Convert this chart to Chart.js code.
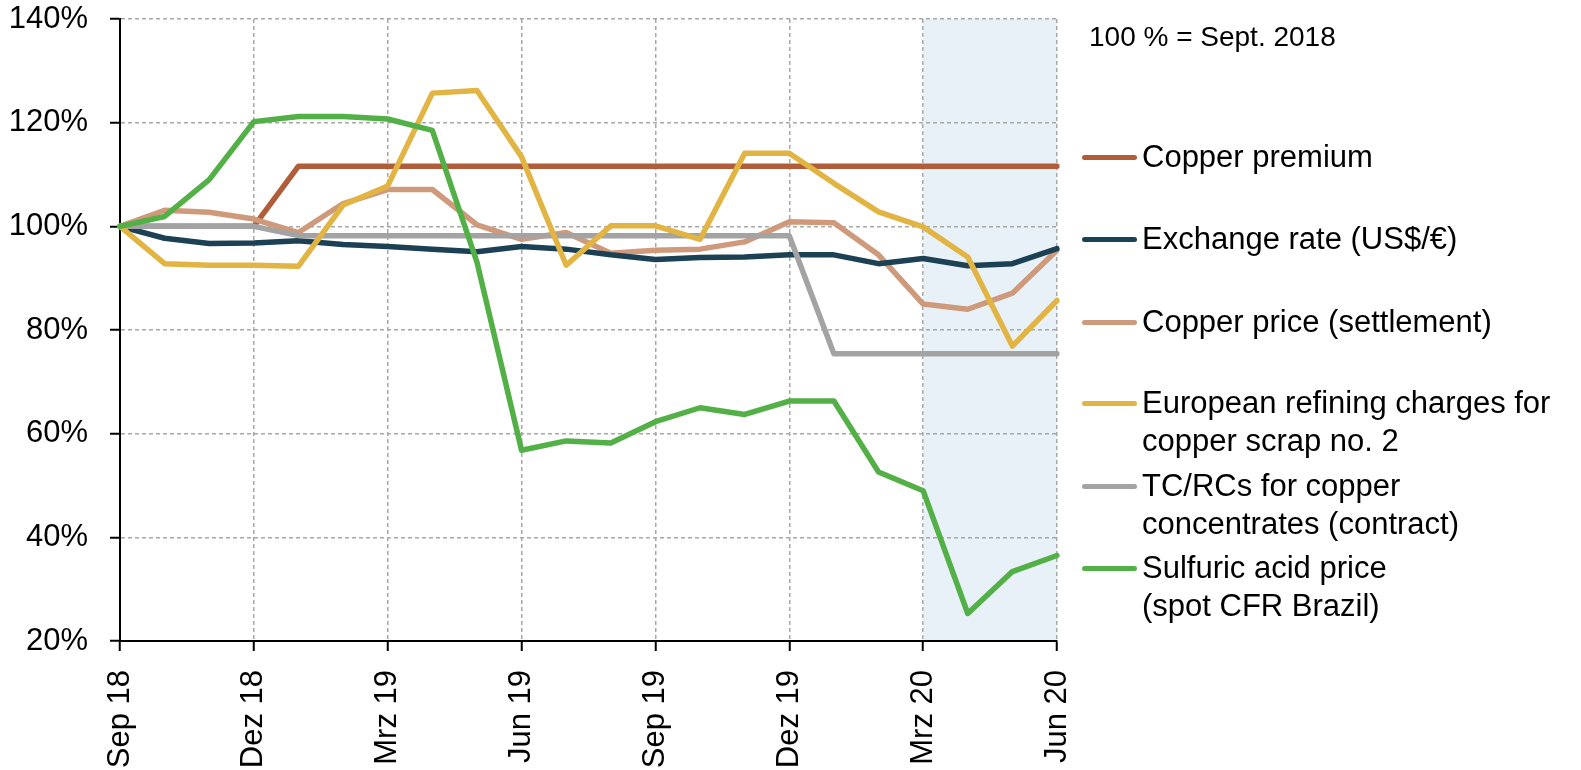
<!DOCTYPE html>
<html>
<head>
<meta charset="utf-8">
<script src="https://cdn.jsdelivr.net/npm/chart.js@4.4.1/dist/chart.umd.min.js"></script>
<style>
    body { margin: 0; background: #fff; font-family: "Liberation Sans", Arial, sans-serif; }
    #wrap { position: relative; width: 1581px; height: 770px; }
    #chart { position: absolute; left: 0; top: 0; }
    .note { position: absolute; left: 1089px; top: 20px; font-size: 28px; line-height: 34px; color: #000; white-space: nowrap; }
    .item { position: absolute; left: 1142px; font-size: 31px; line-height: 38px; color: #000; white-space: nowrap; }
    .mark { position: absolute; left: 1082px; width: 55px; height: 5px; border-radius: 3px; }
</style>
</head>
<body>
<div id="wrap">
    <canvas id="chart" width="1581" height="770"></canvas>
    <div class="note">100 % = Sept. 2018</div>
    <div id="legend"></div>
</div>
<script>
const months = ['Sep 18','Okt 18','Nov 18','Dez 18','Jan 19','Feb 19','Mrz 19','Apr 19','Mai 19','Jun 19','Jul 19','Aug 19',
                'Sep 19','Okt 19','Nov 19','Dez 19','Jan 20','Feb 20','Mrz 20','Apr 20','Mai 20','Jun 20'];

const copperPremium = [100,100,100,100,111.6,111.6,111.6,111.6,111.6,111.6,111.6,111.6,111.6,111.6,111.6,111.6,111.6,111.6,111.6,111.6,111.6,111.6];
const exchangeRate  = [100,97.7,96.7,96.8,97.2,96.5,96.1,95.6,95.1,96.1,95.6,94.5,93.6,94.0,94.1,94.5,94.5,92.8,93.8,92.4,92.8,95.7];
const copperPrice   = [100,103.1,102.7,101.4,98.8,104.4,107.1,107.1,100.3,97.5,98.8,94.8,95.4,95.6,97.0,100.9,100.7,94.5,85.0,84.0,87.1,95.4];
const scrapCharges  = [100,92.8,92.5,92.5,92.3,104.1,107.8,125.7,126.2,113.4,92.5,100.1,100.1,97.5,114.1,114.1,108.3,102.8,99.9,94.1,76.9,85.7];
const tcrcContract  = [100,100,100,100,98.2,98.2,98.2,98.2,98.2,98.2,98.2,98.2,98.2,98.2,98.2,98.2,75.4,75.4,75.4,75.4,75.4,75.4];
const sulfuricAcid  = [100,101.9,109.0,120.2,121.2,121.2,120.7,118.5,93.1,56.8,58.6,58.2,62.3,65.0,63.7,66.3,66.3,52.6,49.0,25.3,33.4,36.5];

const seriesNames = ['Copper premium', 'Exchange rate (US$/€)', 'Copper price (settlement)',
                     'European refining charges for\ncopper scrap no. 2', 'TC/RCs for copper\nconcentrates (contract)',
                     'Sulfuric acid price\n(spot CFR Brazil)'];
const seriesData = [copperPremium, exchangeRate, copperPrice, scrapCharges, tcrcContract, sulfuricAcid];
const colors = ['#b15d39', '#1c4054', '#cf9a7c', '#e1b443', '#a3a3a3', '#53b047'];
const drawOrder = [5, 3, 4, 1, 2, 0];
const legendY = [157, 239, 322, 403, 486, 568];

const shadeFrom = 18, shadeTo = 21;

const shadePlugin = {
    id: 'shade',
    beforeDraw(chart) {
        const x = chart.scales.x, a = chart.chartArea, ctx = chart.ctx;
        const x1 = x.getPixelForValue(shadeFrom), x2 = x.getPixelForValue(shadeTo);
        ctx.save();
        ctx.fillStyle = '#e8f1f7';
        ctx.fillRect(x1, a.top, x2 - x1, a.bottom - a.top);
        ctx.restore();
    }
};

const legend = document.getElementById('legend');
seriesNames.forEach((name, i) => {
    legend.innerHTML += `<div class="mark" style="top:${legendY[i] - 2.5}px;background:${colors[i]}"></div>
        <div class="item" style="top:${legendY[i] - 19}px">${name.replace('\n', '<br>')}</div>`;
});

const every3 = (i) => i % 3 === 0;
const tickFont = { family: '"Liberation Sans", Arial', size: 31 };

new Chart(document.getElementById('chart'), {
    type: 'line',
    data: {
        labels: months,
        datasets: seriesData.map((d, i) => ({
            label: seriesNames[i],
            data: d,
            borderColor: colors[i],
            borderWidth: 5.5,
            pointRadius: 0,
            tension: 0,
            borderJoinStyle: 'round',
            borderCapStyle: 'round',
            order: drawOrder[i]
        }))
    },
    plugins: [shadePlugin],
    options: {
        responsive: false,
        animation: false,
        layout: { padding: { left: 0, right: 524, top: 19, bottom: 0 } },
        plugins: { legend: { display: false }, tooltip: { enabled: false } },
        scales: {
            x: {
                afterFit: (s) => { s.height = 129; },
                border: { color: '#000', width: 2, dash: [4, 3] },
                grid: {
                    color: (c) => every3(c.index) ? '#a8a8a8' : 'transparent',
                    tickColor: (c) => every3(c.index) ? '#000' : 'transparent',
                    tickBorderDash: [],
                    lineWidth: 1.5,
                    tickWidth: 2,
                    tickLength: 10
                },
                ticks: {
                    autoSkip: false,
                    minRotation: 90,
                    maxRotation: 90,
                    padding: 19,
                    color: '#000',
                    font: tickFont,
                    callback: (v, i) => every3(i) ? months[i] : ''
                }
            },
            y: {
                min: 20,
                max: 140,
                afterFit: (s) => { s.width = 120; s.paddingTop = 0; s.paddingBottom = 0; },
                border: { color: '#000', width: 2, dash: [4, 3] },
                grid: {
                    color: '#a8a8a8',
                    tickColor: '#000',
                    tickBorderDash: [],
                    lineWidth: 1.5,
                    tickWidth: 2,
                    tickLength: 10
                },
                ticks: {
                    stepSize: 20,
                    padding: 22,
                    color: '#000',
                    font: tickFont,
                    callback: (v) => v + '%'
                }
            }
        }
    }
});
</script>
</body>
</html>
